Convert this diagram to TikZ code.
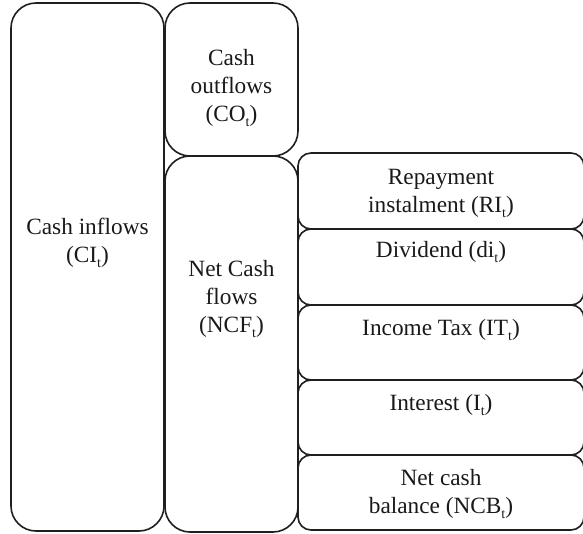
\documentclass[tikz,border=0pt]{standalone}
\usepackage{fontspec}
\setmainfont{Liberation Serif}
% lowered subscript index used in every label
\newcommand{\idx}[1]{\raisebox{-5pt}{\fontsize{14}{14}\selectfont #1}}
\begin{document}
\begin{tikzpicture}[x=1pt,y=-1pt,
  frame/.style={draw=black!88, line width=1.6pt, rectangle, inner sep=0pt, outer sep=0pt},
  tall/.style={frame, rounded corners=25pt, minimum width=133pt},
  item/.style={frame, rounded corners=13pt, minimum width=286pt},
  lbl/.style={font=\fontsize{23.3}{28}\selectfont, align=center, inner sep=0pt, anchor=base, text=black!90}]
\useasboundingbox (0,0) rectangle (583,534);

% left column
\node[tall, minimum width=153pt, minimum height=528pt] (cin) at (87.5,267) {};
% middle column
\node[tall, minimum height=153pt] (cout) at (231.5,79.5) {};
\node[tall, minimum height=376pt] (ncf) at (231.5,344) {};
% right column
\node[item, minimum height=76pt] (ri)  at (441,191) {};
\node[item, minimum height=76pt] (di)  at (441,267) {};
\node[item, minimum height=75pt] (it)  at (441,342.5) {};
\node[item, minimum height=75pt] (int) at (441,417.5) {};
\node[item, minimum height=75pt] (ncb) at (441,492.5) {};

% labels
\node[lbl] (cinlbl)  at (87.5,263) {Cash inflows\\(CI\idx{t})};
\node[lbl] (coutlbl) at (231.5,122) {Cash\\outflows\\(CO\idx{t})};
\node[lbl] (ncflbl)  at (231.5,332) {Net Cash\\flows\\(NCF\idx{t})};
\node[lbl] (rilbl)   at (441,213) {Repayment\\instalment (RI\idx{t})};
\node[lbl] (dilbl)   at (441,258) {Dividend (di\idx{t})};
\node[lbl] (itlbl)   at (441,335) {Income Tax (IT\idx{t})};
\node[lbl] (intlbl)  at (441,410) {Interest (I\idx{t})};
\node[lbl] (ncblbl)  at (441,513) {Net cash\\balance (NCB\idx{t})};
\end{tikzpicture}
\end{document}
